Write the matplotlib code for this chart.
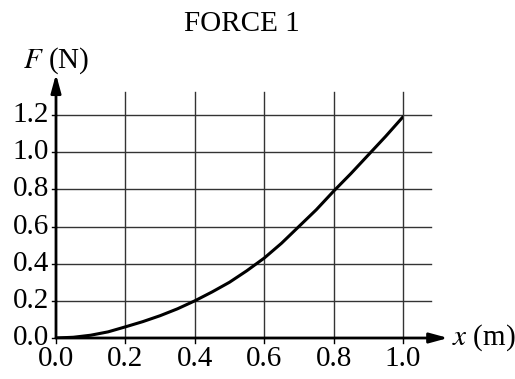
import matplotlib
matplotlib.use("Agg")
import matplotlib.pyplot as plt

# values
x_m = [0.0, 0.05, 0.1, 0.15, 0.2, 0.25, 0.3, 0.35, 0.4, 0.45, 0.5,
       0.55, 0.6, 0.65, 0.7, 0.75, 0.8, 0.85, 0.9, 0.95, 1.0]
force_n = [0.0, 0.004, 0.015, 0.033, 0.06, 0.088, 0.12, 0.157, 0.2, 0.248, 0.3,
           0.362, 0.43, 0.51, 0.6, 0.69, 0.79, 0.885, 0.985, 1.085, 1.19]
x_ticks = [0.0, 0.2, 0.4, 0.6, 0.8, 1.0]
y_ticks = [0.0, 0.2, 0.4, 0.6, 0.8, 1.0, 1.2]
x_labels = ["0.0", "0.2", "0.4", "0.6", "0.8", "1.0"]
y_labels = ["0.0", "0.2", "0.4", "0.6", "0.8", "1.0", "1.2"]

plt.rcParams['font.family'] = ['Liberation Serif', 'DejaVu Serif']
plt.rcParams['mathtext.fontset'] = 'stix'

W, H = 515, 379
fig = plt.figure(figsize=(W / 100, H / 100), dpi=100)
ax = fig.add_axes([56 / W, (H - 338) / H, 347 / W, 223 / H])
ax.set_xlim(0, 1.0)
ax.set_ylim(0, 1.2)
for s in ax.spines.values():
    s.set_visible(False)
ax.set_xticks([])
ax.set_yticks([])

gc = '#333333'
for xv in x_ticks[1:]:
    ax.plot([xv, xv], [0, 1.325], color=gc, lw=1.0, clip_on=False, zorder=1)
for yv in y_ticks[1:]:
    ax.plot([0, 1.08], [yv, yv], color=gc, lw=1.0, clip_on=False, zorder=1)

# tick marks
for xv in x_ticks:
    ax.plot([xv, xv], [0, -0.025], color='black', lw=1.0, clip_on=False)
for yv in y_ticks:
    ax.plot([0, -0.012], [yv, yv], color='black', lw=1.0, clip_on=False)

# axes arrows
ax.annotate('', xy=(1.13, 0), xytext=(0, 0), annotation_clip=False,
            arrowprops=dict(arrowstyle='-|>,head_length=1.1,head_width=0.3',
                            color='black', lw=2, shrinkA=0, shrinkB=0))
ax.annotate('', xy=(0, 1.42), xytext=(0, 0), annotation_clip=False,
            arrowprops=dict(arrowstyle='-|>,head_length=1.1,head_width=0.3',
                            color='black', lw=2, shrinkA=0, shrinkB=0))

ax.plot(x_m, force_n, color='black', lw=2.2, zorder=3, solid_capstyle='round')

fs = 21
for xv, lab in zip(x_ticks, x_labels):
    ax.text(xv, -0.045, lab, ha='center', va='top', fontsize=fs)
for yv, lab in zip(y_ticks, y_labels):
    ax.text(-0.02, yv, lab, ha='right', va='center', fontsize=fs)

ax.text(0.536, 1.69, 'FORCE 1', ha='center', va='center', fontsize=fs)
ax.text(0.0, 1.49, r'$F$ (N)', ha='center', va='center', fontsize=fs)
ax.text(1.14, 0.0, r'$x$ (m)', ha='left', va='center', fontsize=fs)

plt.savefig('out.png', dpi=100)
